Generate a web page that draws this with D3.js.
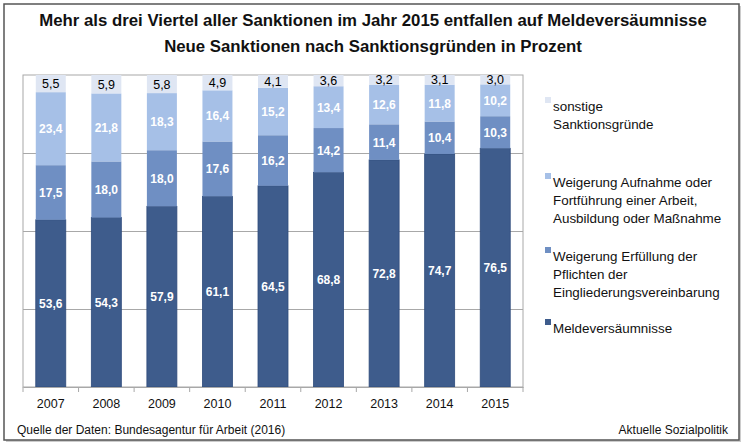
<!DOCTYPE html>
<html><head><meta charset="utf-8">
<script src="https://cdn.jsdelivr.net/npm/d3@7"></script>
<style>body{margin:0;background:#fff}svg{display:block}text{font-family:"Liberation Sans",Arial,sans-serif}</style>
</head><body>
<script>
const years = ["2007","2008","2009","2010","2011","2012","2013","2014","2015"];
const meldeversaeumnisse = [53.6,54.3,57.9,61.1,64.5,68.8,72.8,74.7,76.5];
const pflichten = [17.5,18.0,18.0,17.6,16.2,14.2,11.4,10.4,10.3];
const weigerungArbeit = [23.4,21.8,18.3,16.4,15.2,13.4,12.6,11.8,10.2];
const sonstige = [5.5,5.9,5.8,4.9,4.1,3.6,3.2,3.1,3.0];
const seriesNames = ["Meldeversäumnisse","Weigerung Erfüllung der Pflichten der Eingliederungsvereinbarung","Weigerung Aufnahme oder Fortführung einer Arbeit, Ausbildung oder Maßnahme","sonstige Sanktionsgründe"];
const legendLines = [["Meldeversäumnisse"],["Weigerung Erfüllung der","Pflichten der","Eingliederungsvereinbarung"],["Weigerung Aufnahme oder","Fortführung einer Arbeit,","Ausbildung oder Maßnahme"],["sonstige","Sanktionsgründe"]];
const gridTicks = [25,50,75];
const title1 = "Mehr als drei Viertel aller Sanktionen im Jahr 2015 entfallen auf Meldeversäumnisse";
const title2 = "Neue Sanktionen nach Sanktionsgründen in Prozent";
const sourceText = "Quelle der Daten: Bundesagentur für Arbeit (2016)";
const brandText = "Aktuelle Sozialpolitik";

const colors = ["#3e5c8c","#6f8fc3","#a6c0e7","#dfe6f3"];
const labelColors = ["#fff","#fff","#fff","#000"];
const allSeries = [meldeversaeumnisse,pflichten,weigerungArbeit,sonstige];

const W=747,H=447;
const svg=d3.select("body").append("svg").attr("width",W).attr("height",H);
svg.append("rect").attr("x",6).attr("y",6).attr("width",735).attr("height",436).attr("fill","#ccc");
svg.append("rect").attr("x",4).attr("y",4).attr("width",735).attr("height",436).attr("fill","#fff").attr("stroke","#555").attr("stroke-width",1.5);

svg.append("text").attr("x",373).attr("y",26).attr("text-anchor","middle").attr("font-size",16.8).attr("font-weight","bold").attr("fill","#111").text(title1);
svg.append("text").attr("x",373).attr("y",52).attr("text-anchor","middle").attr("font-size",16.8).attr("font-weight","bold").attr("fill","#111").text(title2);

const L=23,R=523,T=75,B=387;
const x=d3.scaleBand().domain(years).range([L,R]).paddingInner(0.46).paddingOuter(0.23);
const y=d3.scaleLinear().domain([0,100]).range([B,T]);

svg.append("rect").attr("x",L).attr("y",T).attr("width",R-L).attr("height",B-T).attr("fill","none").attr("stroke","#a8a8a8").attr("stroke-width",1);
svg.append("g").selectAll("line").data(gridTicks).join("line")
  .attr("x1",L).attr("x2",R).attr("y1",d=>Math.round(y(d))+0.5).attr("y2",d=>Math.round(y(d))+0.5)
  .attr("stroke","#a8a8a8");

const stackData = years.map((yr,i)=>{const o={year:yr};allSeries.forEach((s,k)=>o["s"+k]=s[i]);return o;});
const stack=d3.stack().keys(["s0","s1","s2","s3"])(stackData);

stack.forEach((layer,k)=>{
  const g=svg.append("g");
  g.selectAll("rect").data(layer).join("rect")
    .attr("x",d=>x(d.data.year)).attr("width",x.bandwidth())
    .attr("y",d=>y(d[1])).attr("height",d=>y(d[0])-y(d[1]))
    .attr("fill",colors[k]).attr("stroke",k===0?"#2f4c7c":"none").attr("stroke-width",0.8);
  g.selectAll("text").data(layer).join("text")
    .attr("x",d=>x(d.data.year)+x.bandwidth()/2).attr("y",d=>(y(d[0])+y(d[1]))/2+4.5)
    .attr("text-anchor","middle").attr("font-size",k<3?12:12.5).attr("font-weight",k<3?"bold":"normal").attr("fill",labelColors[k])
    .text(d=>d3.format(".1f")(d[1]-d[0]).replace(".",","));
});

const xAxis=d3.axisBottom(x).tickSize(0).tickPadding(12);
const ax=svg.append("g").attr("transform",`translate(0,${B})`).call(xAxis);
ax.select(".domain").attr("stroke","#a8a8a8");
ax.selectAll("text").attr("font-size",12.5).attr("fill","#111").attr("font-family","Liberation Sans, Arial, sans-serif");
svg.append("g").selectAll("line").data(d3.range(years.length+1)).join("line")
  .attr("x1",i=>L+i*(R-L)/years.length).attr("x2",i=>L+i*(R-L)/years.length)
  .attr("y1",B).attr("y2",B+5).attr("stroke","#a8a8a8");

const legY=[328,256,182,106];
legendLines.forEach((lines,k)=>{
  svg.append("rect").attr("x",545).attr("y",legY[k]-9).attr("width",6).attr("height",6).attr("fill",colors[k]);
  lines.forEach((ln,j)=>{
    svg.append("text").attr("x",553).attr("y",legY[k]+5+j*18).attr("font-size",13.4).attr("fill","#111").text(ln);
  });
});

svg.append("text").attr("x",17).attr("y",434).attr("font-size",12).attr("fill","#111").text(sourceText);
svg.append("text").attr("x",728).attr("y",434).attr("text-anchor","end").attr("font-size",12).attr("fill","#111").text(brandText);
</script>
</body></html>
